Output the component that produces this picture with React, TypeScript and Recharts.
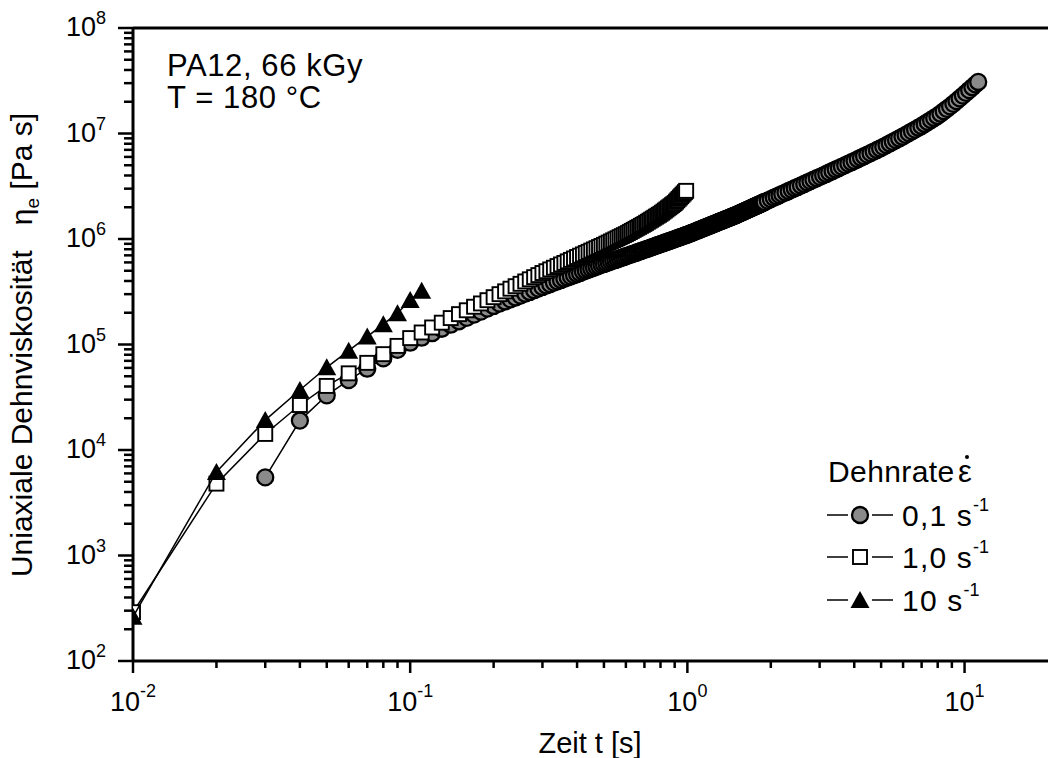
import React from 'react';
import { ScatterChart, Scatter, XAxis, YAxis, ReferenceLine } from 'recharts';

// Dehnrate 0,1 s^-1  [t in s, eta_e in Pa s]
const rate01: [number, number][] = [
  [0.03, 5.5e3], [0.04, 1.9e4], [0.05, 3.3e4], [0.06, 4.6e4], [0.07, 5.9e4], [0.08, 7.4e4], [0.09, 8.9e4], [0.10, 1.04e5],
  [0.11, 1.16e5], [0.12, 1.28e5], [0.13, 1.41e5], [0.14, 1.54e5], [0.15, 1.66e5], [0.16, 1.79e5], [0.17, 1.92e5], [0.18, 2.05e5], [0.19, 2.19e5], [0.20, 2.32e5],
  [0.21, 2.44e5], [0.22, 2.56e5], [0.23, 2.68e5], [0.24, 2.79e5], [0.25, 2.91e5], [0.26, 3.03e5], [0.27, 3.15e5], [0.28, 3.27e5], [0.29, 3.39e5], [0.30, 3.51e5],
  [0.31, 3.63e5], [0.32, 3.74e5], [0.33, 3.86e5], [0.34, 3.97e5], [0.35, 4.09e5], [0.36, 4.20e5], [0.37, 4.32e5], [0.38, 4.43e5], [0.39, 4.55e5], [0.40, 4.66e5],
  [0.41, 4.77e5], [0.42, 4.89e5], [0.43, 5.00e5], [0.44, 5.12e5], [0.45, 5.23e5], [0.46, 5.34e5], [0.47, 5.46e5], [0.48, 5.57e5], [0.49, 5.69e5], [0.50, 5.80e5],
  [0.51, 5.91e5], [0.52, 6.01e5], [0.53, 6.12e5], [0.54, 6.23e5], [0.55, 6.33e5], [0.56, 6.44e5], [0.57, 6.54e5], [0.58, 6.65e5], [0.59, 6.75e5], [0.60, 6.86e5],
  [0.61, 6.96e5], [0.62, 7.07e5], [0.63, 7.17e5], [0.64, 7.28e5], [0.65, 7.38e5], [0.66, 7.49e5], [0.67, 7.59e5], [0.68, 7.70e5], [0.69, 7.80e5], [0.70, 7.90e5],
  [0.71, 8.01e5], [0.72, 8.11e5], [0.73, 8.21e5], [0.74, 8.32e5], [0.75, 8.42e5], [0.76, 8.53e5], [0.77, 8.63e5], [0.78, 8.74e5], [0.79, 8.84e5], [0.80, 8.94e5],
  [0.81, 9.05e5], [0.82, 9.15e5], [0.83, 9.26e5], [0.84, 9.36e5], [0.85, 9.46e5], [0.86, 9.57e5], [0.87, 9.67e5], [0.88, 9.77e5], [0.89, 9.88e5], [0.90, 9.98e5],
  [0.91, 1.008e6], [0.92, 1.019e6], [0.93, 1.029e6], [0.94, 1.039e6], [0.95, 1.049e6], [0.96, 1.060e6], [0.97, 1.070e6], [0.98, 1.080e6], [0.99, 1.091e6], [1.00, 1.100e6],
  [1.01, 1.112e6], [1.02, 1.123e6], [1.03, 1.135e6], [1.04, 1.147e6], [1.05, 1.158e6], [1.06, 1.170e6], [1.07, 1.182e6], [1.08, 1.194e6], [1.09, 1.205e6], [1.10, 1.217e6],
  [1.11, 1.229e6], [1.12, 1.240e6], [1.13, 1.252e6], [1.14, 1.264e6], [1.15, 1.276e6], [1.16, 1.287e6], [1.17, 1.299e6], [1.18, 1.311e6], [1.19, 1.323e6], [1.20, 1.335e6],
  [1.21, 1.346e6], [1.22, 1.358e6], [1.23, 1.370e6], [1.24, 1.382e6], [1.25, 1.393e6], [1.26, 1.405e6], [1.27, 1.417e6], [1.28, 1.429e6], [1.29, 1.441e6], [1.30, 1.453e6],
  [1.31, 1.465e6], [1.32, 1.476e6], [1.33, 1.488e6], [1.34, 1.500e6], [1.35, 1.512e6], [1.36, 1.524e6], [1.37, 1.536e6], [1.38, 1.548e6], [1.39, 1.559e6], [1.40, 1.571e6],
  [1.41, 1.583e6], [1.42, 1.595e6], [1.43, 1.607e6], [1.44, 1.619e6], [1.45, 1.631e6], [1.46, 1.643e6], [1.47, 1.655e6], [1.48, 1.667e6], [1.49, 1.679e6], [1.50, 1.691e6],
  [1.51, 1.703e6], [1.52, 1.717e6], [1.53, 1.731e6], [1.54, 1.744e6], [1.55, 1.758e6], [1.56, 1.771e6], [1.57, 1.785e6], [1.58, 1.799e6], [1.59, 1.812e6], [1.60, 1.826e6],
  [1.61, 1.840e6], [1.62, 1.853e6], [1.63, 1.867e6], [1.64, 1.881e6], [1.65, 1.895e6], [1.66, 1.909e6], [1.67, 1.922e6], [1.68, 1.936e6], [1.69, 1.950e6], [1.70, 1.964e6],
  [1.71, 1.978e6], [1.72, 1.992e6], [1.73, 2.006e6], [1.74, 2.020e6], [1.75, 2.033e6], [1.76, 2.047e6], [1.77, 2.061e6], [1.78, 2.075e6], [1.79, 2.089e6], [1.80, 2.103e6],
  [1.81, 2.117e6], [1.82, 2.131e6], [1.83, 2.145e6], [1.84, 2.159e6], [1.85, 2.174e6], [1.86, 2.188e6], [1.87, 2.202e6], [1.88, 2.216e6], [1.89, 2.230e6], [1.90, 2.244e6],
  [1.95, 2.315e6], [2.00, 2.39e6], [2.05, 2.461e6], [2.10, 2.533e6], [2.15, 2.605e6], [2.20, 2.677e6], [2.26, 2.764e6], [2.32, 2.852e6], [2.38, 2.940e6], [2.44, 3.028e6],
  [2.50, 3.117e6], [2.57, 3.221e6], [2.64, 3.326e6], [2.71, 3.431e6], [2.78, 3.537e6], [2.85, 3.643e6], [2.93, 3.765e6], [3.01, 3.887e6], [3.09, 4.012e6], [3.17, 4.139e6],
  [3.25, 4.267e6], [3.34, 4.411e6], [3.43, 4.557e6], [3.52, 4.703e6], [3.61, 4.850e6], [3.71, 5.015e6], [3.81, 5.180e6], [3.91, 5.346e6], [4.01, 5.507e6], [4.12, 5.700e6],
  [4.23, 5.894e6], [4.34, 6.090e6], [4.46, 6.304e6], [4.58, 6.520e6], [4.70, 6.738e6], [4.83, 6.976e6], [4.96, 7.215e6], [5.09, 7.47e6], [5.23, 7.760e6], [5.37, 8.050e6],
  [5.51, 8.344e6], [5.66, 8.661e6], [5.81, 8.982e6], [5.97, 9.328e6], [6.13, 9.703e6], [6.29, 1.008e7], [6.46, 1.049e7], [6.63, 1.090e7], [6.81, 1.134e7], [6.99, 1.178e7],
  [7.18, 1.231e7], [7.37, 1.285e7], [7.57, 1.343e7], [7.77, 1.402e7], [7.98, 1.465e7], [8.19, 1.541e7], [8.41, 1.625e7], [8.64, 1.715e7], [8.87, 1.807e7], [9.11, 1.912e7],
  [9.35, 2.027e7], [9.60, 2.152e7], [9.86, 2.286e7], [10.12, 2.427e7], [10.39, 2.582e7], [10.67, 2.748e7], [10.95, 2.921e7], [11.2, 3.08e7],
];

// Dehnrate 1,0 s^-1
const rate10: [number, number][] = [
  [0.01, 290], [0.02, 4.8e3], [0.03, 1.42e4], [0.04, 2.67e4], [0.05, 4.05e4], [0.06, 5.33e4], [0.07, 6.7e4], [0.08, 8.1e4], [0.09, 9.7e4], [0.10, 1.15e5],
  [0.11, 1.30e5], [0.12, 1.45e5], [0.13, 1.61e5], [0.14, 1.78e5], [0.15, 1.94e5], [0.16, 2.11e5], [0.17, 2.28e5], [0.18, 2.45e5], [0.19, 2.63e5], [0.20, 2.81e5],
  [0.21, 3.00e5], [0.22, 3.19e5], [0.23, 3.38e5], [0.24, 3.57e5], [0.25, 3.76e5], [0.26, 3.96e5], [0.27, 4.15e5], [0.28, 4.35e5], [0.29, 4.55e5], [0.30, 4.76e5],
  [0.31, 4.95e5], [0.32, 5.15e5], [0.33, 5.34e5], [0.34, 5.54e5], [0.35, 5.74e5], [0.36, 5.93e5], [0.37, 6.14e5], [0.38, 6.34e5], [0.39, 6.54e5], [0.40, 6.75e5],
  [0.41, 6.95e5], [0.42, 7.15e5], [0.43, 7.36e5], [0.44, 7.56e5], [0.45, 7.77e5], [0.46, 7.97e5], [0.47, 8.18e5], [0.48, 8.39e5], [0.49, 8.59e5], [0.50, 8.80e5],
  [0.51, 9.03e5], [0.52, 9.25e5], [0.53, 9.48e5], [0.54, 9.71e5], [0.55, 9.94e5], [0.56, 1.017e6], [0.57, 1.041e6], [0.58, 1.064e6], [0.59, 1.088e6], [0.60, 1.111e6],
  [0.61, 1.137e6], [0.62, 1.164e6], [0.63, 1.192e6], [0.64, 1.220e6], [0.65, 1.248e6], [0.66, 1.276e6], [0.67, 1.304e6], [0.68, 1.333e6], [0.69, 1.361e6], [0.70, 1.390e6],
  [0.71, 1.423e6], [0.72, 1.456e6], [0.73, 1.490e6], [0.74, 1.523e6], [0.75, 1.558e6], [0.76, 1.592e6], [0.77, 1.627e6], [0.78, 1.662e6], [0.79, 1.697e6], [0.80, 1.733e6],
  [0.81, 1.774e6], [0.82, 1.818e6], [0.83, 1.862e6], [0.84, 1.907e6], [0.85, 1.953e6], [0.86, 1.999e6], [0.87, 2.046e6], [0.88, 2.093e6], [0.89, 2.141e6], [0.90, 2.190e6],
  [0.91, 2.259e6], [0.92, 2.329e6], [0.93, 2.401e6], [0.94, 2.474e6], [0.95, 2.548e6], [0.96, 2.624e6], [0.97, 2.701e6], [0.98, 2.780e6], [0.99, 2.860e6],
];

// Dehnrate 10 s^-1
const rate100: [number, number][] = [
  [0.01, 262], [0.02, 6.2e3], [0.03, 1.92e4], [0.04, 3.7e4], [0.05, 6.08e4], [0.06, 8.73e4],
  [0.07, 1.19e5], [0.08, 1.56e5], [0.09, 1.98e5], [0.10, 2.64e5], [0.11, 3.24e5],
];

const X_MAJOR = [0.01, 0.1, 1, 10];
const X_MINOR = [
  0.02, 0.03, 0.04, 0.05, 0.06, 0.07, 0.08, 0.09,
  0.2, 0.3, 0.4, 0.5, 0.6, 0.7, 0.8, 0.9,
  2, 3, 4, 5, 6, 7, 8, 9,
];
const Y_MAJOR = [1e2, 1e3, 1e4, 1e5, 1e6, 1e7, 1e8];
const Y_MINOR = [
  2e2, 3e2, 4e2, 5e2, 6e2, 7e2, 8e2, 9e2,
  2e3, 3e3, 4e3, 5e3, 6e3, 7e3, 8e3, 9e3,
  2e4, 3e4, 4e4, 5e4, 6e4, 7e4, 8e4, 9e4,
  2e5, 3e5, 4e5, 5e5, 6e5, 7e5, 8e5, 9e5,
  2e6, 3e6, 4e6, 5e6, 6e6, 7e6, 8e6, 9e6,
  2e7, 3e7, 4e7, 5e7, 6e7, 7e7, 8e7, 9e7,
];

const FONT = '"Liberation Sans", Arial, sans-serif';

const toRows = (arr: [number, number][]) => arr.map(([t, eta]) => ({ t, eta }));

const isMajor = (list: number[], v: number) => list.some((m) => Math.abs(m - v) / m < 1e-6);

function XTick(props: any) {
  const { x, y, payload } = props;
  const v = payload.value;
  const major = isMajor(X_MAJOR, v);
  const exp = Math.round(Math.log10(v));
  return (
    <g>
      <line x1={x} x2={x} y1={y} y2={y + (major ? 12 : 7)} stroke="#000" strokeWidth={2.5} />
      {major && (
        <text x={x} y={y + 50} textAnchor="middle" fontFamily={FONT} fontSize={27} fill="#000">
          10<tspan dy={-14} fontSize={18}>{exp}</tspan>
        </text>
      )}
    </g>
  );
}

function YTick(props: any) {
  const { x, y, payload } = props;
  const v = payload.value;
  const major = isMajor(Y_MAJOR, v);
  const exp = Math.round(Math.log10(v));
  return (
    <g>
      <line x1={x} x2={x - (major ? 15 : 9)} y1={y} y2={y} stroke="#000" strokeWidth={2.5} />
      {major && (
        <text x={x - 27} y={y + 8} textAnchor="end" fontFamily={FONT} fontSize={27} fill="#000">
          10<tspan dy={-12} fontSize={18}>{exp}</tspan>
        </text>
      )}
    </g>
  );
}

const CircleMark = (p: any) => (
  <circle cx={p.cx} cy={p.cy} r={8} fill="#8a8a8a" stroke="#000" strokeWidth={2.3} />
);
const SquareMark = (p: any) => (
  <rect x={p.cx - 7} y={p.cy - 7} width={14} height={14} fill="#fff" stroke="#000" strokeWidth={1.9} />
);
const TriangleMark = (p: any) => (
  <polygon
    points={`${p.cx},${p.cy - 9} ${p.cx - 9.5},${p.cy + 8} ${p.cx + 9.5},${p.cy + 8}`}
    fill="#000"
  />
);

function Overlay() {
  const rows = [
    { y: 515, label: '0,1 s', Mark: CircleMark },
    { y: 557, label: '1,0 s', Mark: SquareMark },
    { y: 600, label: '10 s', Mark: TriangleMark },
  ];
  return (
    <svg width={1048} height={758} style={{ position: 'absolute', left: 0, top: 0, pointerEvents: 'none' }}>
      <g fontFamily={FONT} fill="#000">
        <text x={167} y={76} fontSize={31} letterSpacing={0.6}>PA12, 66 kGy</text>
        <text x={167} y={108} fontSize={31} letterSpacing={0.6}>T = 180 °C</text>
        <text x={590} y={753} fontSize={29} textAnchor="middle">Zeit t [s]</text>
        <text transform="translate(32,345) rotate(-90)" fontSize={30} textAnchor="middle">
          Uniaxiale Dehnviskosität{'\u00a0\u00a0\u00a0'}η<tspan dy={7} fontSize={19}>e</tspan>
          <tspan dy={-7}>{'\u00a0'}[Pa s]</tspan>
        </text>
        <text x={828} y={482} fontSize={30} letterSpacing={0.4}>Dehnrate</text>
        <text x={958} y={482} fontSize={31}>ε</text>
        <circle cx={967} cy={457} r={2} fill="#000" />
        {rows.map(({ y, label, Mark }) => (
          <g key={label}>
            <line x1={827} x2={848} y1={y} y2={y} stroke="#000" strokeWidth={1.5} />
            <line x1={872} x2={893} y1={y} y2={y} stroke="#000" strokeWidth={1.5} />
            <Mark cx={860} cy={y} />
            <text x={902} y={y + 11} fontSize={30} letterSpacing={1.2}>
              {label}
              <tspan dy={-15} fontSize={18} letterSpacing={0}>-1</tspan>
            </text>
          </g>
        ))}
      </g>
    </svg>
  );
}

export default function App() {
  return (
    <div style={{ position: 'absolute', left: 0, top: 0, width: 1048, height: 758, background: '#fff' }}>
      <ScatterChart width={1048} height={758} margin={{ top: 28, right: 0, bottom: 0, left: 0 }}>
        <XAxis
          type="number"
          dataKey="t"
          scale="log"
          domain={[0.01, 20]}
          allowDataOverflow
          ticks={[...X_MAJOR, ...X_MINOR].sort((a, b) => a - b)}
          interval={0}
          tick={(p: any) => <XTick {...p} />}
          tickLine={false}
          tickSize={0}
          tickMargin={0}
          height={97}
          axisLine={{ stroke: '#000', strokeWidth: 3 }}
        />
        <YAxis
          type="number"
          dataKey="eta"
          scale="log"
          domain={[1e2, 1e8]}
          allowDataOverflow
          ticks={[...Y_MAJOR, ...Y_MINOR].sort((a, b) => a - b)}
          interval={0}
          tick={(p: any) => <YTick {...p} />}
          tickLine={false}
          tickSize={0}
          tickMargin={0}
          width={133}
          axisLine={{ stroke: '#000', strokeWidth: 3 }}
        />
        <ReferenceLine y={1e8} stroke="#000" strokeWidth={3} />
        <Scatter
          data={toRows(rate01)}
          line={{ stroke: '#000', strokeWidth: 1.5 }}
          lineType="joint"
          shape={CircleMark}
          isAnimationActive={false}
        />
        <Scatter
          data={toRows(rate10)}
          line={{ stroke: '#000', strokeWidth: 1.5 }}
          lineType="joint"
          shape={SquareMark}
          isAnimationActive={false}
        />
        <Scatter
          data={toRows(rate100)}
          line={{ stroke: '#000', strokeWidth: 1.5 }}
          lineType="joint"
          shape={TriangleMark}
          isAnimationActive={false}
        />
      </ScatterChart>
      <Overlay />
    </div>
  );
}
